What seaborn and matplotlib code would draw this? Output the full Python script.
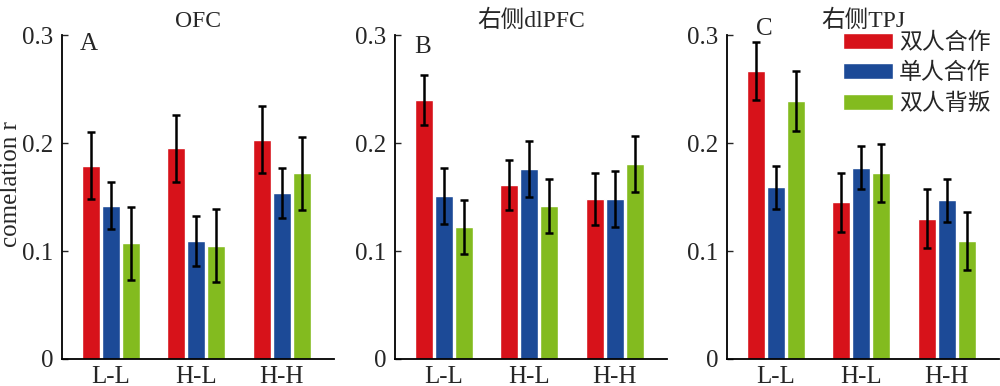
import matplotlib
matplotlib.use("Agg")
import matplotlib.pyplot as plt
import seaborn as sns
import pandas as pd

groups = ["L-L", "H-L", "H-H"]
conditions = ["双人合作", "单人合作", "双人背叛"]
colors = ["#d7121a", "#1c4a97", "#83bb1f"]

regions = ["OFC", "右侧dlPFC", "右侧TPJ"]
panel_letters = ["A", "B", "C"]

# mean r per condition, in group order L-L, H-L, H-H
ofc_means = {
    "双人合作": [0.179, 0.195, 0.203],
    "单人合作": [0.142, 0.109, 0.154],
    "双人背叛": [0.107, 0.105, 0.172],
}
ofc_errs = {
    "双人合作": [0.031, 0.031, 0.031],
    "单人合作": [0.022, 0.023, 0.023],
    "双人背叛": [0.034, 0.034, 0.034],
}

dlpfc_means = {
    "双人合作": [0.240, 0.161, 0.148],
    "单人合作": [0.151, 0.176, 0.148],
    "双人背叛": [0.122, 0.142, 0.181],
}
dlpfc_errs = {
    "双人合作": [0.023, 0.023, 0.024],
    "单人合作": [0.026, 0.026, 0.026],
    "双人背叛": [0.025, 0.025, 0.026],
}

tpj_means = {
    "双人合作": [0.267, 0.145, 0.130],
    "单人合作": [0.159, 0.177, 0.147],
    "双人背叛": [0.239, 0.172, 0.109],
}
tpj_errs = {
    "双人合作": [0.027, 0.027, 0.027],
    "单人合作": [0.020, 0.020, 0.020],
    "双人背叛": [0.028, 0.027, 0.027],
}

all_means = [ofc_means, dlpfc_means, tpj_means]
all_errs = [ofc_errs, dlpfc_errs, tpj_errs]

sns.set_style("ticks")
plt.rcParams["font.family"] = ["Liberation Serif", "Noto Sans CJK SC"]
plt.rcParams["font.size"] = 18

fig = plt.figure(figsize=(10, 3.86), dpi=100)
lefts = [0.062, 0.395, 0.727]
axes = [fig.add_axes([l, 0.070, 0.272, 0.839]) for l in lefts]

letter_pos = [(0.10, 0.972), (0.10, 0.963), (0.137, 1.02)]

for i, ax in enumerate(axes):
    rows = []
    for c in conditions:
        for g, m in zip(groups, all_means[i][c]):
            rows.append({"group": g, "condition": c, "r": m})
    df = pd.DataFrame(rows)

    sns.barplot(
        data=df, x="group", y="r", hue="condition",
        order=groups, hue_order=conditions, palette=colors,
        width=0.7, gap=0.1, errorbar=None, saturation=1,
        legend=(i == 2), ax=ax,
    )

    # error bars on top of each bar
    for c, cont in zip(conditions, ax.containers):
        xs = [p.get_x() + p.get_width() / 2 for p in cont]
        hs = [p.get_height() for p in cont]
        ax.errorbar(xs, hs, yerr=all_errs[i][c], fmt="none",
                    ecolor="black", elinewidth=1.8, capsize=3,
                    capthick=1.8, zorder=5)

    ax.set_xlim(-0.57, 2.61)
    ax.set_ylim(0, 0.3)
    ax.set_yticks([0, 0.1, 0.2, 0.3])
    ax.set_yticklabels(["0", "0.1", "0.2", "0.3"])
    ax.tick_params(axis="y", direction="in", length=4, width=1, labelsize=18, pad=6)
    ax.tick_params(axis="x", length=0, labelsize=18, pad=5)
    ax.set_xlabel("")
    ax.set_ylabel("")
    for s in ["top", "right"]:
        ax.spines[s].set_visible(False)
    for s in ["left", "bottom"]:
        ax.spines[s].set_linewidth(1.3)
        ax.spines[s].set_color("black")

    ax.set_title(regions[i], fontsize=17, pad=6)
    lx, ly = letter_pos[i]
    ax.text(lx, ly, panel_letters[i], transform=ax.transAxes,
            ha="center", va="center", fontsize=18)

axes[0].set_ylabel("comelation r", fontsize=18)
axes[0].yaxis.set_label_coords(-0.147, 0.54)

leg_ax = axes[2]
handles, labels = leg_ax.get_legend_handles_labels()
leg_ax.legend(
    handles, labels, loc="upper left",
    bbox_to_anchor=(0.843, 1 - 33 / 386), bbox_transform=fig.transFigure,
    frameon=False, fontsize=16.5, handlelength=2.2, handleheight=0.7,
    handletextpad=0.25, labelspacing=0.38, borderpad=0, borderaxespad=0,
)

fig.savefig("out.png", dpi=100)
